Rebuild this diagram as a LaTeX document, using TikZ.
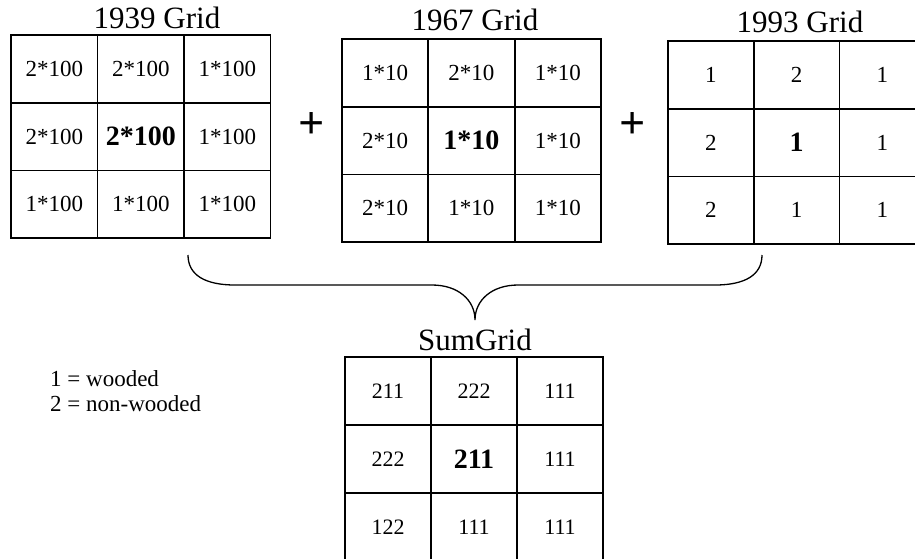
\documentclass[tikz,border=0pt]{standalone}
\usepackage{fontspec}
\setmainfont{Liberation Serif}
\begin{document}
\begin{tikzpicture}[x=1pt,y=-1pt,
  cellA/.style={draw=black,line width=1.8pt,minimum width=86.5pt,minimum height=67.7pt,inner sep=0pt,font=\fontsize{23}{27}\selectfont},
  cellB/.style={cellA,minimum width=86.3pt},
  cellC/.style={cellA,minimum width=85.7pt},
  cellS/.style={cellA,minimum width=86pt,minimum height=68pt,font=\fontsize{22}{26}\selectfont},
  big/.style={font=\fontsize{28}{32}\selectfont\bfseries},
  title/.style={inner sep=0pt,font=\fontsize{31}{36}\selectfont},
  plus/.style={inner sep=0pt,font=\fontsize{46}{50}\selectfont\bfseries},
  legend/.style={inner sep=0pt,anchor=west,font=\fontsize{23}{27}\selectfont},
  brace/.style={line width=1.3pt}]
\clip (0,0) rectangle (915,558);
\fill[white] (0,0) rectangle (915,558);
% titles
\node[title] (t1) at (157,18) {1939 Grid};
\node[title] (t2) at (475,20) {1967 Grid};
\node[title] (t3) at (800,22) {1993 Grid};
% grid 1939
\node[cellA] (a11) at (54.25,68.85) {2*100};
\node[cellA] (a12) at (140.75,68.85) {2*100};
\node[cellA] (a13) at (227.25,68.85) {1*100};
\node[cellA] (a21) at (54.25,136.55) {2*100};
\node[cellA,big] (a22) at (140.75,136.55) {2*100};
\node[cellA] (a23) at (227.25,136.55) {1*100};
\node[cellA] (a31) at (54.25,204.25) {1*100};
\node[cellA] (a32) at (140.75,204.25) {1*100};
\node[cellA] (a33) at (227.25,204.25) {1*100};
% plus signs
\node[plus] (p1) at (312,125) {+};
\node[plus] (p2) at (633,125) {+};
% grid 1967
\node[cellB] (b11) at (385.15,72.85) {1*10};
\node[cellB] (b12) at (471.45,72.85) {2*10};
\node[cellB] (b13) at (557.75,72.85) {1*10};
\node[cellB] (b21) at (385.15,140.55) {2*10};
\node[cellB,big] (b22) at (471.45,140.55) {1*10};
\node[cellB] (b23) at (557.75,140.55) {1*10};
\node[cellB] (b31) at (385.15,208.25) {2*10};
\node[cellB] (b32) at (471.45,208.25) {1*10};
\node[cellB] (b33) at (557.75,208.25) {1*10};
% grid 1993
\node[cellC] (c11) at (710.85,74.85) {1};
\node[cellC] (c12) at (796.55,74.85) {2};
\node[cellC] (c13) at (882.25,74.85) {1};
\node[cellC] (c21) at (710.85,142.55) {2};
\node[cellC,big] (c22) at (796.55,142.55) {1};
\node[cellC] (c23) at (882.25,142.55) {1};
\node[cellC] (c31) at (710.85,210.25) {2};
\node[cellC] (c32) at (796.55,210.25) {1};
\node[cellC] (c33) at (882.25,210.25) {1};
% brace
\coordinate (bl) at (188,255);
\coordinate (br) at (762,255);
\coordinate (tip) at (475,320);
\draw[brace] (bl) .. controls (188,275) and (205,285) .. (235,285) -- (432,285)
  .. controls (458,285) and (475,300) .. (tip)
  .. controls (475,300) and (492,285) .. (518,285) -- (715,285)
  .. controls (745,285) and (762,275) .. (br);
% sum grid
\node[title] (ts) at (475,340) {SumGrid};
\node[cellS] (s11) at (388,391) {211};
\node[cellS] (s12) at (474,391) {222};
\node[cellS] (s13) at (560,391) {111};
\node[cellS] (s21) at (388,459) {222};
\node[cellS,big] (s22) at (474,459) {211};
\node[cellS] (s23) at (560,459) {111};
\node[cellS] (s31) at (388,527) {122};
\node[cellS] (s32) at (474,527) {111};
\node[cellS] (s33) at (560,527) {111};
% legend
\node[legend] (l1) at (50,379) {1 = wooded};
\node[legend] (l2) at (50,404) {2 = non-wooded};
\end{tikzpicture}
\end{document}
